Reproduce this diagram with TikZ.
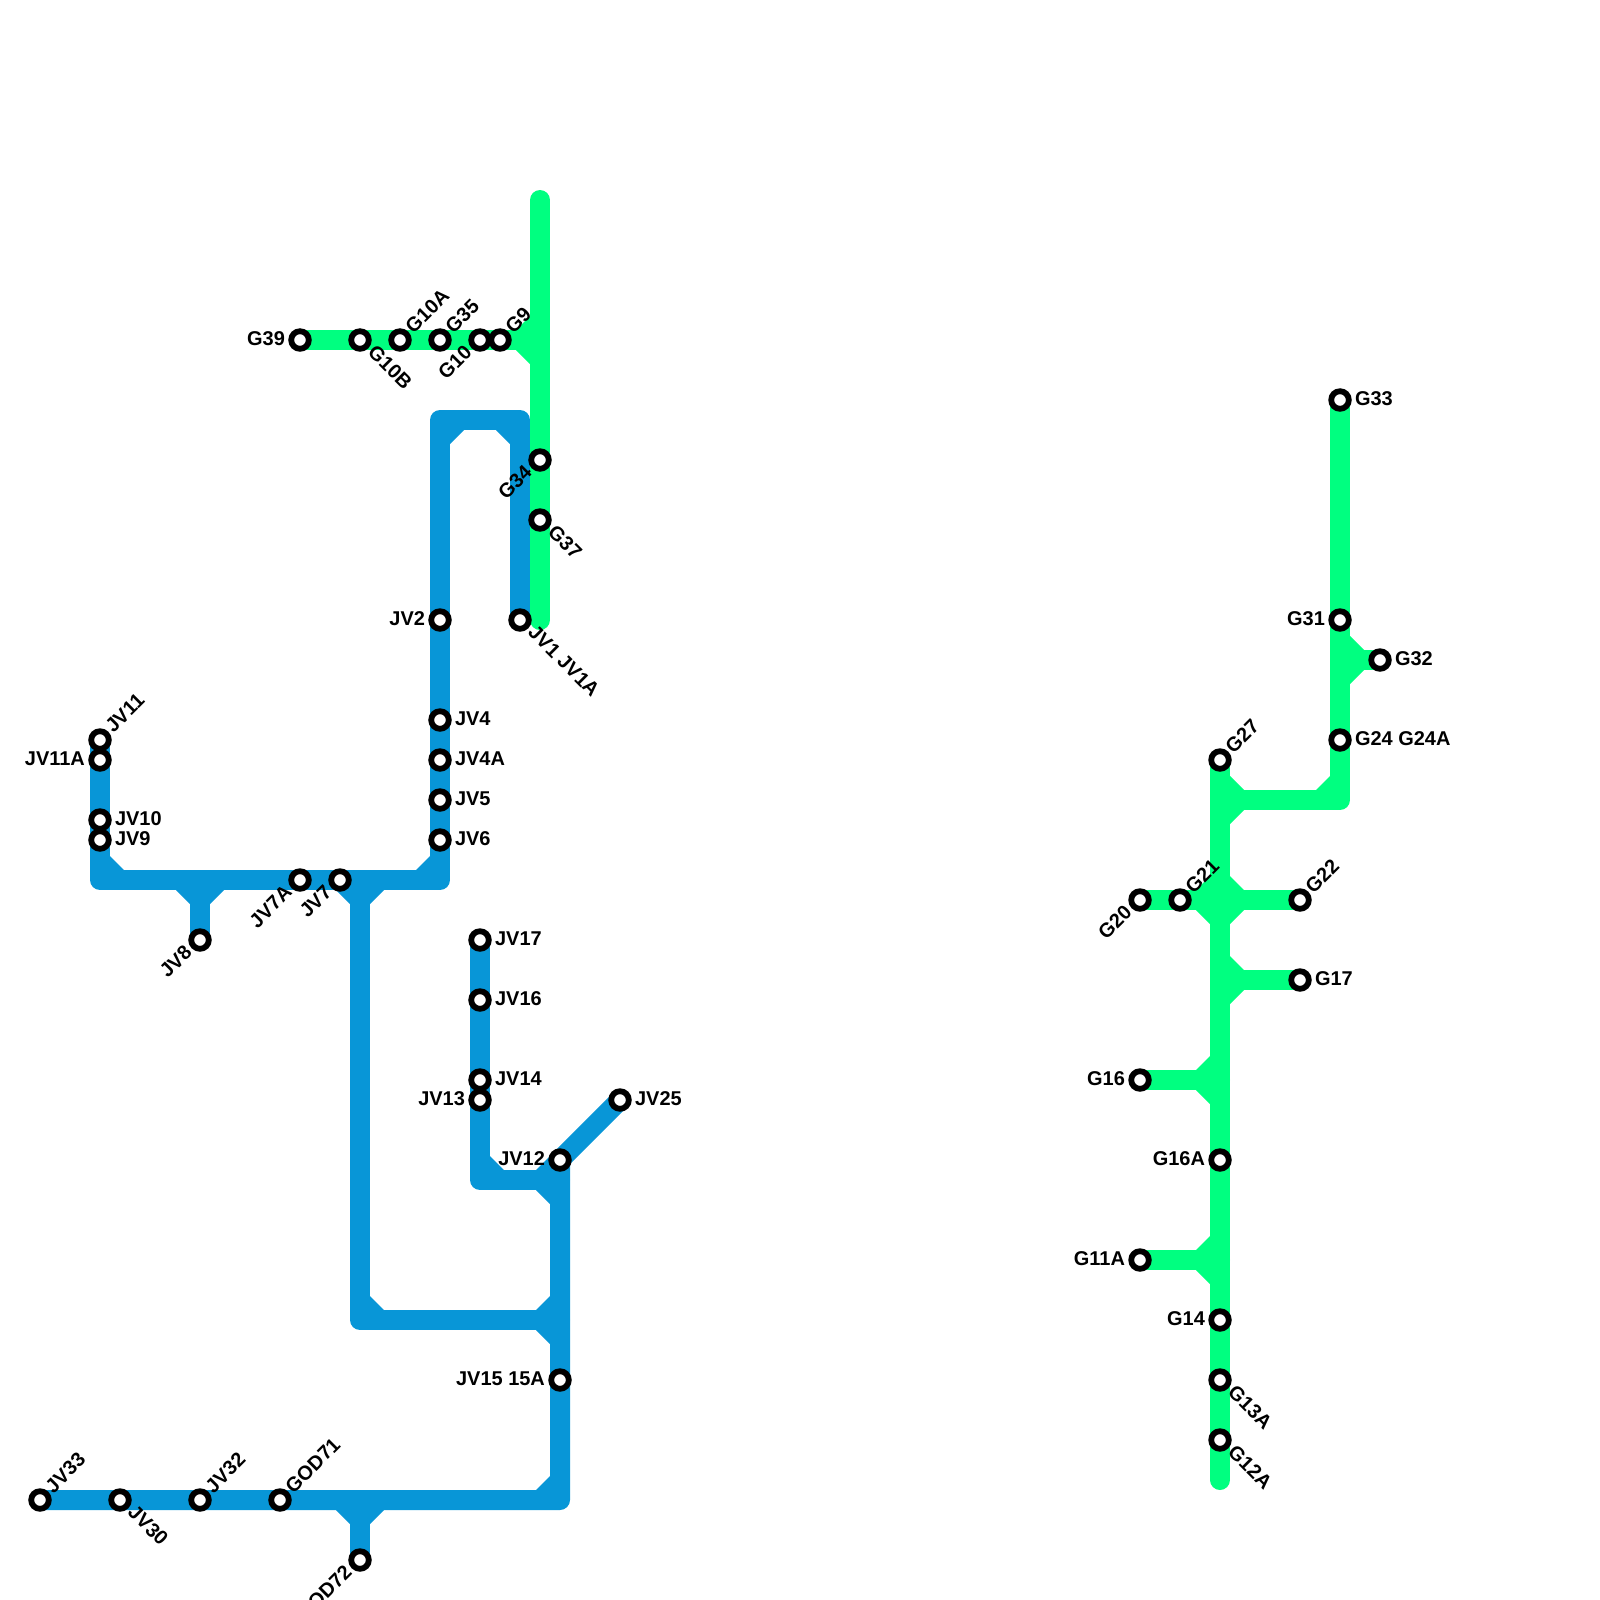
\documentclass[tikz,border=0pt]{standalone}
\usepackage{fontspec}
\setmainfont{Liberation Sans}
\usetikzlibrary{backgrounds,calc}
\definecolor{jvblue}{HTML}{0896D7}
\definecolor{ggreen}{HTML}{00FF80}
\tikzset{
  stop/.style={circle, draw=black, line width=1.45mm, fill=white, minimum size=4.4mm, inner sep=0pt},
  lab/.style={font=\fontsize{14.2pt}{15pt}\selectfont\bfseries, inner sep=0pt, text=black},
  labr/.style={lab, anchor=west, xshift=3.7mm, yshift=0.4mm},
  labl/.style={lab, anchor=east, xshift=-3.7mm, yshift=0.4mm},
  labne/.style={lab, rotate=45, anchor=west, xshift=3.4mm, yshift=0.35mm},
  labse/.style={lab, rotate=-45, anchor=west, xshift=3.6mm, yshift=0.5mm},
  labsw/.style={lab, rotate=45, anchor=east, xshift=-3.6mm, yshift=0.5mm},
  trackb/.style={draw=jvblue, line width=5mm, line cap=round, line join=round},
  trackg/.style={draw=ggreen, line width=5mm, line cap=round, line join=round},
}
\begin{document}
\begin{tikzpicture}[x=0.5cm,y=-0.5cm]
  \useasboundingbox (0,0) rectangle (80,80);
  % blue stops
  \node[stop](jv33) at (2,75){};
  \node[labne] (jv33t) at (jv33) {JV33};
  \node[stop](jv30) at (6,75){};
  \node[labse] (jv30t) at (jv30) {JV30};
  \node[stop](jv32) at (10,75){};
  \node[labne] (jv32t) at (jv32) {JV32};
  \node[stop](god71) at (14,75){};
  \node[labne] (god71t) at (god71) {GOD71};
  \node[stop](god72) at (18,78){};
  \node[labsw] (god72t) at (god72) {GOD72};
  \node[stop](jv15) at (28,69){};
  \node[labl] (jv15t) at (jv15) {JV15 15A};
  \node[stop](jv12) at (28,58){};
  \node[labl] (jv12t) at (jv12) {JV12};
  \node[stop](jv25) at (31,55){};
  \node[labr] (jv25t) at (jv25) {JV25};
  \node[stop](jv13) at (24,55){};
  \node[labl] (jv13t) at (jv13) {JV13};
  \node[stop](jv14) at (24,54){};
  \node[labr] (jv14t) at (jv14) {JV14};
  \node[stop](jv16) at (24,50){};
  \node[labr] (jv16t) at (jv16) {JV16};
  \node[stop](jv17) at (24,47){};
  \node[labr] (jv17t) at (jv17) {JV17};
  \node[stop](jv8) at (10,47){};
  \node[labsw] (jv8t) at (jv8) {JV8};
  \node[stop](jv7a) at (15,44){};
  \node[labsw] (jv7at) at (jv7a) {JV7A};
  \node[stop](jv7) at (17,44){};
  \node[labsw] (jv7t) at (jv7) {JV7};
  \node[stop](jv9) at (5,42){};
  \node[labr] (jv9t) at (jv9) {JV9};
  \node[stop](jv10) at (5,41){};
  \node[labr] (jv10t) at (jv10) {JV10};
  \node[stop](jv11a) at (5,38){};
  \node[labl] (jv11at) at (jv11a) {JV11A};
  \node[stop](jv11) at (5,37){};
  \node[labne] (jv11t) at (jv11) {JV11};
  \node[stop](jv6) at (22,42){};
  \node[labr] (jv6t) at (jv6) {JV6};
  \node[stop](jv5) at (22,40){};
  \node[labr] (jv5t) at (jv5) {JV5};
  \node[stop](jv4a) at (22,38){};
  \node[labr] (jv4at) at (jv4a) {JV4A};
  \node[stop](jv4) at (22,36){};
  \node[labr] (jv4t) at (jv4) {JV4};
  \node[stop](jv2) at (22,31){};
  \node[labl] (jv2t) at (jv2) {JV2};
  \node[stop](jv1) at (26,31){};
  \node[labse] (jv1t) at (jv1) {JV1 JV1A};
  % green stops, upper left
  \node[stop](g39) at (15,17){};
  \node[labl] (g39t) at (g39) {G39};
  \node[stop](g10b) at (18,17){};
  \node[labse] (g10bt) at (g10b) {G10B};
  \node[stop](g10a) at (20,17){};
  \node[labne] (g10at) at (g10a) {G10A};
  \node[stop](g35) at (22,17){};
  \node[labne] (g35t) at (g35) {G35};
  \node[stop](g10) at (24,17){};
  \node[labsw] (g10t) at (g10) {G10};
  \node[stop](g9) at (25,17){};
  \node[labne] (g9t) at (g9) {G9};
  \node[stop](g34) at (27,23){};
  \node[labsw] (g34t) at (g34) {G34};
  \node[stop](g37) at (27,26){};
  \node[labse] (g37t) at (g37) {G37};
  % green stops, right
  \node[stop](g33) at (67,20){};
  \node[labr] (g33t) at (g33) {G33};
  \node[stop](g31) at (67,31){};
  \node[labl] (g31t) at (g31) {G31};
  \node[stop](g32) at (69,33){};
  \node[labr] (g32t) at (g32) {G32};
  \node[stop](g24) at (67,37){};
  \node[labr] (g24t) at (g24) {G24 G24A};
  \node[stop](g27) at (61,38){};
  \node[labne] (g27t) at (g27) {G27};
  \node[stop](g20) at (57,45){};
  \node[labsw] (g20t) at (g20) {G20};
  \node[stop](g21) at (59,45){};
  \node[labne] (g21t) at (g21) {G21};
  \node[stop](g22) at (65,45){};
  \node[labne] (g22t) at (g22) {G22};
  \node[stop](g17) at (65,49){};
  \node[labr] (g17t) at (g17) {G17};
  \node[stop](g16) at (57,54){};
  \node[labl] (g16t) at (g16) {G16};
  \node[stop](g16a) at (61,58){};
  \node[labl] (g16at) at (g16a) {G16A};
  \node[stop](g11a) at (57,63){};
  \node[labl] (g11at) at (g11a) {G11A};
  \node[stop](g14) at (61,66){};
  \node[labl] (g14t) at (g14) {G14};
  \node[stop](g13a) at (61,69){};
  \node[labse] (g13at) at (g13a) {G13A};
  \node[stop](g12a) at (61,72){};
  \node[labse] (g12at) at (g12a) {G12A};
  % bends and free ends
  \coordinate (bl) at (5,44);
  \coordinate (br) at (22,44);
  \coordinate (t8) at (10,44);
  \coordinate (t7) at (18,44);
  \coordinate (tl) at (22,21);
  \coordinate (tr) at (26,21);
  \coordinate (mj) at (24,59);
  \coordinate (mt) at (28,59);
  \coordinate (lj) at (18,66);
  \coordinate (lt) at (28,66);
  \coordinate (ej) at (28,75);
  \coordinate (t72) at (18,75);
  \coordinate (gtop) at (27,10);
  \coordinate (gbot) at (27,31);
  \coordinate (gt9) at (27,17);
  \coordinate (rj) at (67,40);
  \coordinate (rt) at (61,40);
  \coordinate (rm) at (61,45);
  \coordinate (r17) at (61,49);
  \coordinate (r16) at (61,54);
  \coordinate (r11) at (61,63);
  \coordinate (rbot) at (61,74);
  \coordinate (t32) at (67,33);
  \begin{scope}[on background layer]
    \draw[trackb](jv11.center)--(bl)--(br)--(tl)--(tr)--(jv1.center);
    \draw[trackb](t8)--(jv8.center);
    \draw[trackb](t7)--(lj)--(lt);
    \draw[trackb](jv17.center)--(mj)--(mt);
    \draw[trackb](jv25.center)--(jv12.center)--(ej)--(jv33.center);
    \draw[trackb](t72)--(god72.center);
    \foreach \c/\sx/\sy in {bl/1/-1,br/-1/-1,tl/1/1,tr/-1/1,t8/-1/1,t8/1/1,t7/-1/1,t7/1/1,
      mj/1/-1,mt/-1/-1,mt/-1/1,lj/1/-1,lt/-1/-1,lt/-1/1,ej/-1/-1,t72/-1/1,t72/1/1}
      \fill[jvblue] ($(\c)+(\sx*1.2,\sy*0.5)$)--($(\c)+(\sx*0.5,\sy*1.2)$)--(\c)--cycle;
    \draw[trackg](gtop)--(gbot);
    \draw[trackg](g39.center)--(gt9);
    \draw[trackg](g33.center)--(rj)--(rt);
    \draw[trackg](g27.center)--(rbot);
    \draw[trackg](t32)--(g32.center);
    \draw[trackg](g20.center)--(g22.center);
    \draw[trackg](r17)--(g17.center);
    \draw[trackg](g16.center)--(r16);
    \draw[trackg](g11a.center)--(r11);
    \foreach \c/\sx/\sy in {gt9/-1/-1,gt9/-1/1,t32/1/-1,t32/1/1,rj/-1/-1,rt/1/-1,rt/1/1,
      rm/1/1,rm/1/-1,rm/-1/1,rm/-1/-1,r17/1/-1,r17/1/1,r16/-1/-1,r16/-1/1,r11/-1/-1,r11/-1/1}
      \fill[ggreen] ($(\c)+(\sx*1.2,\sy*0.5)$)--($(\c)+(\sx*0.5,\sy*1.2)$)--(\c)--cycle;
  \end{scope}
\end{tikzpicture}
\end{document}
